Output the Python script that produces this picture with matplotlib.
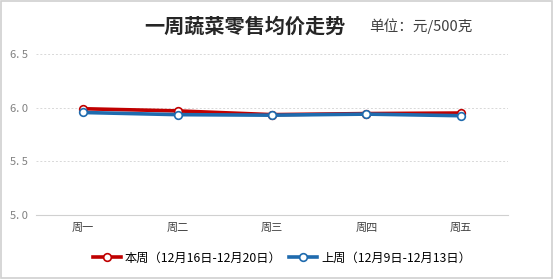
import matplotlib.pyplot as plt
from matplotlib.patches import Rectangle

plt.rcParams['font.family'] = ['Noto Sans CJK SC', 'DejaVu Sans']

days = ["周一", "周二", "周三", "周四", "周五"]
this_week = [5.99, 5.97, 5.935, 5.945, 5.95]
last_week = [5.955, 5.935, 5.93, 5.94, 5.925]
y_ticks = [5.0, 5.5, 6.0, 6.5]

fig = plt.figure(figsize=(5.53, 2.79), dpi=100)
ax = fig.add_axes([36 / 553, 1 - 215 / 279, (508 - 36) / 553, (215 - 54) / 279])

x = range(len(days))
ax.plot(x, this_week, color="#C00000", lw=2.6, marker="o", ms=5.5,
        mfc="white", mec="#C00000", mew=1.2,
        label="本周（12月16日-12月20日）", zorder=3)
ax.plot(x, last_week, color="#1F6BAE", lw=2.6, marker="o", ms=5.5,
        mfc="white", mec="#1F6BAE", mew=1.2,
        label="上周（12月9日-12月13日）", zorder=4)

ax.set_xlim(-0.5, 4.5)
ax.set_ylim(5.0, 6.5)
ax.set_xticks(list(x))
ax.set_xticklabels(days, fontsize=8, color="#404040")
ax.set_yticks(y_ticks)
ax.set_yticklabels([f"{v:.1f}".replace(".", ". ") for v in y_ticks], fontsize=8, color="#808080")
ax.tick_params(length=0, pad=6)
for s in ["top", "right", "left"]:
    ax.spines[s].set_visible(False)
ax.spines["bottom"].set_color("#D0D0D0")
ax.grid(axis="y", ls=(0, (2, 2)), color="#D8D8D8", lw=0.7)
ax.set_axisbelow(True)

fig.text(0.443, 0.905, "一周蔬菜零售均价走势", fontsize=14.5, fontweight="bold",
         ha="center", va="center", color="#262626")
fig.text(0.668, 0.905, "单位：元/500克", fontsize=10.5, ha="left", va="center", color="#404040")

leg = fig.legend(loc="center", bbox_to_anchor=(0.51, 0.075), ncol=2, frameon=False,
                 fontsize=8.8, handlelength=2.3, columnspacing=0.6, handletextpad=0.3)

fig.patches.append(Rectangle((0.002, 0.004), 0.996, 0.992, transform=fig.transFigure,
                             fill=False, edgecolor="#D0D0D0", lw=1.2))

fig.savefig("out.png", dpi=100)
